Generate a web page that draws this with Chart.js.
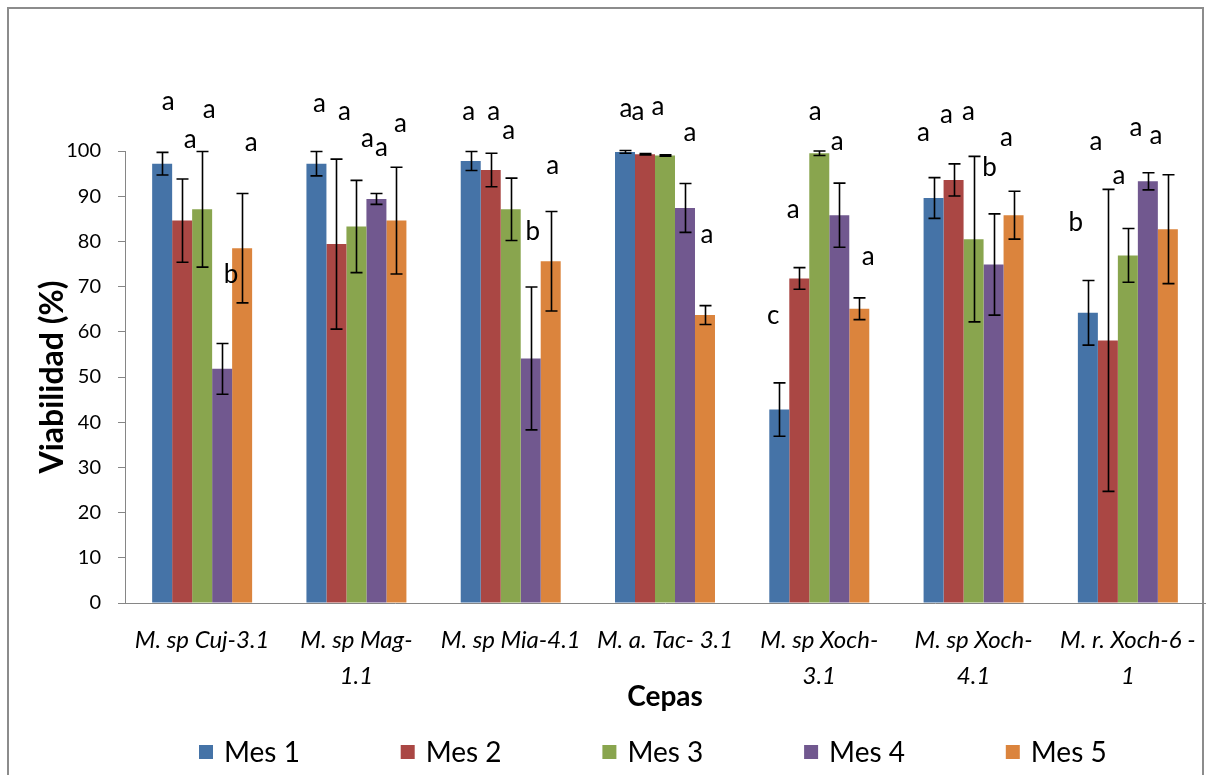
<!DOCTYPE html>
<html>
<head>
<meta charset="utf-8">
<script src="https://cdn.jsdelivr.net/npm/chart.js@4/dist/chart.umd.min.js"></script>
<style>
  html, body { margin: 0; padding: 0; background: #fff; }
  #wrap { width: 1210px; height: 775px; position: relative; }
</style>
</head>
<body>
<div id="wrap"><canvas id="c" width="1210" height="775"></canvas></div>
<script>
// Strains (x categories); wrapped names are given as line arrays
const cepas = ['M. sp Cuj-3.1', ['M. sp Mag-', '1.1'], 'M. sp Mia-4.1', 'M. a. Tac- 3.1',
               ['M. sp Xoch-', '3.1'], ['M. sp Xoch-', '4.1'], ['M. r. Xoch-6 -', '1']];
const meses = ['Mes 1', 'Mes 2', 'Mes 3', 'Mes 4', 'Mes 5'];

// Viability (%) per month, one value per strain
const mes1 = [97.2, 97.2, 97.8, 99.8, 42.8, 89.6, 64.2];
const mes2 = [84.6, 79.4, 95.8, 99.3, 71.8, 93.6, 58.1];
const mes3 = [87.1, 83.3, 87.1, 99.0, 99.5, 80.5, 76.9];
const mes4 = [51.8, 89.4, 54.1, 87.4, 85.8, 74.9, 93.3];
const mes5 = [78.5, 84.6, 75.6, 63.7, 65.1, 85.8, 82.7];

// Standard deviation per month
const err1 = [2.5, 2.7, 2.1, 0.3, 5.9, 4.5, 7.15];
const err2 = [9.2, 18.8, 3.7, 0.15, 2.4, 3.55, 33.4];
const err3 = [12.8, 10.2, 6.9, 0.15, 0.5, 18.3, 5.95];
const err4 = [5.6, 1.2, 15.8, 5.4, 7.1, 11.2, 1.9];
const err5 = [12.1, 11.8, 11.0, 2.1, 2.4, 5.3, 12.05];

// Significance letters per month
const letras1 = ['a', 'a', 'a', 'a', 'c', 'a', 'b'];
const letras2 = ['a', 'a', 'a', 'a', 'a', 'a', 'a'];
const letras3 = ['a', 'a', 'a', 'a', 'a', 'a', 'a'];
const letras4 = ['b', 'a', 'b', 'a', 'a', 'b', 'a'];
const letras5 = ['a', 'a', 'a', 'a', 'a', 'a', 'a'];

const yTicks = [0, 10, 20, 30, 40, 50, 60, 70, 80, 90, 100];

// Placement of the letters: height on the value axis and horizontal nudge in px
const letraY = [
  [110.6, 110.2, 108.3, 109.1, 63.3, 103.7, 84.3],
  [102.2, 108.3, 108.3, 108.3, 86.6, 107.6, 101.8],
  [108.7, 102.3, 104.1, 109.5, 108.3, 108.3, 94.2],
  [72.8, 100.3, 82.4, 103.7, 101.8, 96.5, 104.9],
  [101.4, 105.7, 96.5, 81.2, 76.2, 102.6, 103.0]
];
const letraDx = [
  [6, 3, -2, 1, -6, -10, -12],
  [8, 8, 3, -7, -6, -7, -12],
  [7, 11, -2, -7, -4, -5, -9],
  [9, 5, 2, 5, -2, -4, -12],
  [9, 4, 2, 2, 9, -7, -12]
];

const colores = ['#4573A7', '#AA4744', '#89A54E', '#71588F', '#DB843D'];
const series = [mes1, mes2, mes3, mes4, mes5];
const errores = [err1, err2, err3, err4, err5];
const letras = [letras1, letras2, letras3, letras4, letras5];

const FONT = 'Lato, "Open Sans", sans-serif';

// White page with the grey frame around the chart
const frame = {
  id: 'frame',
  beforeDraw(chart) {
    const ctx = chart.ctx;
    ctx.save();
    ctx.fillStyle = '#fff';
    ctx.fillRect(0, 0, chart.width, chart.height);
    ctx.strokeStyle = '#8c8c8c';
    ctx.lineWidth = 2;
    ctx.strokeRect(8, 8, 1195, 800);
    ctx.restore();
  }
};

// Error bars (mean ± SD) with caps
const errorBars = {
  id: 'errorBars',
  afterDatasetsDraw(chart) {
    const ctx = chart.ctx;
    const y = chart.scales.y;
    ctx.save();
    ctx.strokeStyle = '#000';
    ctx.lineWidth = 1.6;
    chart.data.datasets.forEach((ds, i) => {
      const meta = chart.getDatasetMeta(i);
      meta.data.forEach((bar, j) => {
        const v = ds.data[j], e = ds.errors[j];
        const x = Math.round(bar.x) + 0.5;
        const yt = y.getPixelForValue(v + e);
        const yb = y.getPixelForValue(v - e);
        const cap = 6;
        ctx.beginPath();
        ctx.moveTo(x, yt); ctx.lineTo(x, yb);
        ctx.moveTo(x - cap, yt); ctx.lineTo(x + cap, yt);
        ctx.moveTo(x - cap, yb); ctx.lineTo(x + cap, yb);
        ctx.stroke();
      });
    });
    ctx.restore();
  }
};

// Significance letters above the bars
const letrasPlugin = {
  id: 'letras',
  afterDatasetsDraw(chart) {
    const ctx = chart.ctx;
    const y = chart.scales.y;
    const size = 26;
    ctx.save();
    ctx.fillStyle = '#000';
    ctx.font = size + 'px ' + FONT;
    ctx.textAlign = 'center';
    ctx.textBaseline = 'alphabetic';
    chart.data.datasets.forEach((ds, i) => {
      const meta = chart.getDatasetMeta(i);
      meta.data.forEach((bar, j) => {
        const t = ds.letters[j];
        const off = (t === 'b') ? size * 0.36 : size * 0.26;
        ctx.fillText(t, bar.x + letraDx[i][j], y.getPixelForValue(letraY[i][j]) + off);
      });
    });
    ctx.restore();
  }
};

// Legend row along the bottom
const leyenda = {
  id: 'leyenda',
  afterDraw(chart) {
    const ctx = chart.ctx;
    const cy = 752, box = 14, x0 = 199, step = 201.7;
    ctx.save();
    ctx.font = '28px ' + FONT;
    ctx.textBaseline = 'middle';
    ctx.textAlign = 'left';
    chart.data.datasets.forEach((ds, i) => {
      const x = x0 + i * step;
      ctx.fillStyle = ds.backgroundColor;
      ctx.fillRect(x, cy - box / 2, box, box);
      ctx.fillStyle = '#000';
      ctx.fillText(ds.label, x + box + 11, cy + 1);
    });
    ctx.restore();
  }
};

const datasets = series.map((d, i) => ({
  label: meses[i],
  data: d,
  errors: errores[i],
  letters: letras[i],
  backgroundColor: colores[i],
  borderWidth: 0,
  categoryPercentage: 0.648,
  barPercentage: 1.0
}));

new Chart(document.getElementById('c'), {
  type: 'bar',
  data: { labels: cepas, datasets },
  options: {
    responsive: false,
    animation: false,
    layout: { padding: { left: 10, top: 151, right: 5, bottom: 61 } },
    plugins: { legend: { display: false }, tooltip: { enabled: false } },
    scales: {
      x: {
        grid: { display: false, drawTicks: false, tickLength: 0 },
        border: { display: true, color: '#868686', width: 1 },
        ticks: {
          font: { family: FONT, style: 'italic', size: 24, lineHeight: 36 / 24 },
          color: '#000', padding: 19, maxRotation: 0, autoSkip: false
        },
        title: {
          display: true, text: 'Cepas', color: '#000', padding: { top: 0, bottom: 0 },
          font: { family: FONT, weight: 'bold', size: 28 }
        },
        afterFit(s) { s.height = 111; s.paddingLeft = 0; s.paddingRight = 0; }
      },
      y: {
        min: 0, max: 100,
        afterBuildTicks(s) { s.ticks = yTicks.map(v => ({ value: v })); },
        ticks: { font: { family: FONT, size: 20 }, color: '#000', padding: 17 },
        grid: { drawOnChartArea: false, drawTicks: true, tickLength: 7, color: '#868686' },
        border: { display: true, color: '#868686', width: 1 },
        title: {
          display: true, text: 'Viabilidad (%)', color: '#000', padding: { top: 23, bottom: 0 },
          font: { family: FONT, weight: 'bold', size: 32 }
        },
        afterFit(s) { s.width = 115; s.paddingTop = 0; s.paddingBottom = 0; }
      }
    }
  },
  plugins: [frame, errorBars, letrasPlugin, leyenda]
});
</script>
</body>
</html>
